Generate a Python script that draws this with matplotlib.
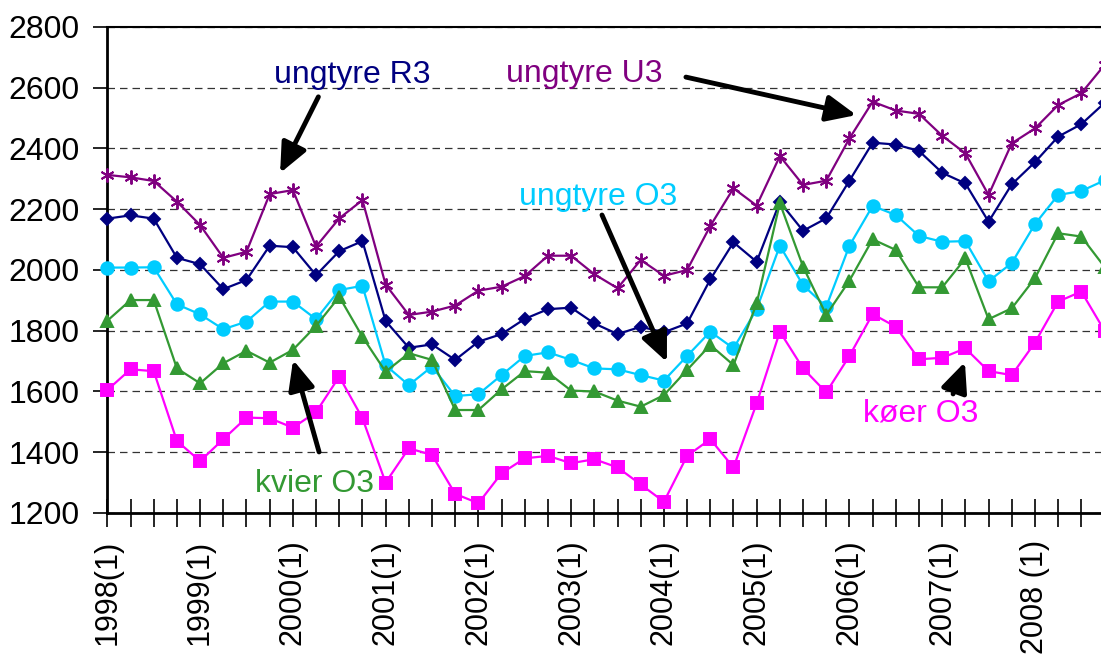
import matplotlib
matplotlib.use("Agg")
import matplotlib.pyplot as plt

plt.rcParams['font.family'] = ['Liberation Sans', 'DejaVu Sans']

# kvartaler 1998(1) .. 2008(4)
n_quarters = 44
year_labels = ['1998(1)', '1999(1)', '2000(1)', '2001(1)', '2002(1)', '2003(1)',
               '2004(1)', '2005(1)', '2006(1)', '2007(1)', '2008 (1)']

ungtyre_u3 = [2313, 2305, 2293, 2225, 2148, 2040, 2060, 2250, 2263, 2077, 2170, 2230,
              1952, 1852, 1863, 1883, 1932, 1945, 1980, 2047, 2047, 1986, 1940, 2033,
              1981, 2000, 2145, 2269, 2212, 2375, 2280, 2294, 2433, 2554, 2525, 2514,
              2442, 2384, 2247, 2417, 2466, 2543, 2582, 2675]
ungtyre_r3 = [2169, 2180, 2169, 2040, 2019, 1937, 1967, 2080, 2075, 1983, 2062, 2095,
              1832, 1744, 1755, 1704, 1764, 1789, 1839, 1871, 1876, 1824, 1789, 1813,
              1795, 1824, 1969, 2091, 2027, 2224, 2129, 2170, 2294, 2419, 2413, 2392,
              2320, 2285, 2159, 2282, 2355, 2439, 2480, 2550]
ungtyre_o3 = [2008, 2008, 2009, 1887, 1854, 1805, 1830, 1896, 1896, 1838, 1934, 1948,
              1686, 1621, 1682, 1585, 1591, 1654, 1717, 1729, 1704, 1676, 1673, 1654,
              1636, 1717, 1797, 1742, 1871, 2080, 1950, 1879, 2080, 2211, 2181, 2112,
              2093, 2095, 1963, 2023, 2151, 2247, 2260, 2295]
kvier_o3 = [1833, 1901, 1901, 1676, 1627, 1693, 1734, 1695, 1737, 1816, 1912, 1780,
            1665, 1726, 1704, 1539, 1539, 1607, 1667, 1662, 1603, 1600, 1570, 1550,
            1588, 1671, 1753, 1687, 1890, 2220, 2011, 1852, 1965, 2101, 2066, 1943,
            1943, 2038, 1838, 1874, 1973, 2121, 2110, 2010]
koer_o3 = [1605, 1673, 1667, 1437, 1371, 1443, 1514, 1512, 1481, 1532, 1649, 1512,
           1300, 1413, 1391, 1263, 1232, 1331, 1380, 1388, 1364, 1377, 1350, 1294,
           1237, 1388, 1443, 1350, 1561, 1797, 1676, 1597, 1717, 1855, 1813, 1706,
           1711, 1742, 1667, 1654, 1761, 1896, 1929, 1800]

x = list(range(n_quarters))

fig = plt.figure(figsize=(11.01, 6.55), dpi=100)
# plotområdet går litt forbi høyre kant (som i originalen)
ax = fig.add_axes([0.0975, 0.2168, 0.9057, 0.742])

series = [
    (ungtyre_u3, '#800080', (6, 2, 0), 10),
    (ungtyre_r3, '#000080', 'D', 6.5),
    (ungtyre_o3, '#00CCFF', 'o', 9),
    (kvier_o3, '#339933', '^', 8.5),
    (koer_o3, '#FF00FF', 's', 8.5),
]
for vals, col, mk, ms in series:
    ax.plot(x, vals, color=col, lw=1.6, marker=mk, markersize=ms,
            markerfacecolor=col, markeredgecolor=col, markeredgewidth=1.4,
            clip_on=False, zorder=3)

ax.set_xlim(0, n_quarters - 1)
ax.set_ylim(1200, 2800)
ax.set_yticks(range(1200, 2801, 200))
ax.yaxis.grid(True, color='black', lw=0.9, dashes=(6, 4), alpha=0.8)
ax.set_axisbelow(True)

ax.set_xticks(x)
ax.set_xticklabels(['' if i % 4 else year_labels[i // 4] for i in x], rotation=90)
ax.tick_params(axis='x', direction='inout', length=20, width=1.2, pad=9, labelsize=22)
ax.tick_params(axis='y', direction='out', length=10, width=1.2, pad=10, labelsize=23)

for side in ['left', 'bottom']:
    ax.spines[side].set_linewidth(2)
ax.spines['top'].set_linewidth(1.5)
ax.spines['right'].set_visible(False)

# tekster med piler
labels = [
    ('ungtyre R3', '#000080', (10.55, 2616), (9.1, 2570), (7.45, 2319)),
    ('ungtyre U3', '#800080', (20.56, 2619), (24.95, 2635), (32.3, 2510)),
    ('ungtyre O3', '#00CCFF', (21.16, 2214), (21.33, 2181), (24.13, 1697)),
    ('kvier O3', '#339933', (8.92, 1269), (9.13, 1401), (8.01, 1704)),
    ('køer O3', '#FF00FF', (35.09, 1500), (36.47, 1592), (36.98, 1697)),
]
for txt, col, pos, tail, tip in labels:
    ax.text(pos[0], pos[1], txt, color=col, fontsize=23, ha='center', va='baseline')
    ax.annotate('', xy=tip, xytext=tail,
                arrowprops=dict(arrowstyle='-|>,head_length=0.9,head_width=0.4',
                                mutation_scale=20, lw=3.5, color='black',
                                shrinkA=0, shrinkB=0))

fig.savefig('out.png', dpi=100)
